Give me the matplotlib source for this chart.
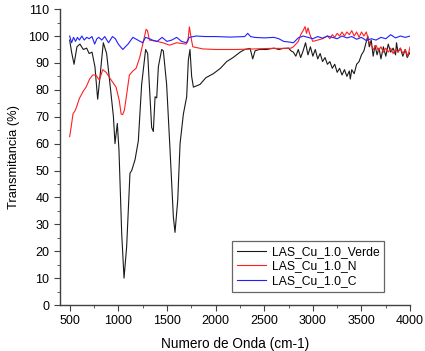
import numpy as np
import matplotlib.pyplot as plt

plt.rcParams['font.family'] = ['Liberation Sans', 'DejaVu Sans']

# LAS_Cu_1.0_Verde
verde_x = [500, 520, 545, 575, 606, 640, 675, 700, 730, 760, 788, 812, 846, 880, 915, 950, 966,
           990, 1007, 1035, 1059, 1086, 1120, 1138, 1172, 1206, 1240, 1281, 1302, 1319, 1343, 1360,
           1378, 1395, 1412, 1446, 1463, 1497, 1532, 1566, 1583, 1611, 1635, 1669, 1703, 1720, 1737,
           1754, 1772, 1840, 1900, 1977, 2050, 2114, 2180, 2252, 2300, 2355, 2382, 2406, 2450, 2526,
           2600, 2650, 2697, 2750, 2775,
           2800, 2825, 2850, 2875, 2900, 2925, 2950, 2975, 3000, 3025, 3050, 3075, 3100, 3125, 3150,
           3175, 3200, 3225, 3250, 3275, 3300, 3325, 3350, 3375, 3385, 3400, 3425, 3450, 3475, 3500,
           3525, 3550, 3565, 3580, 3600, 3620, 3640, 3660, 3680, 3700, 3725, 3750, 3775, 3800, 3825,
           3850, 3860, 3875, 3900, 3925, 3950, 3970, 4000]
verde_y = [98.5, 94, 89.5, 96, 97, 95, 95.5, 93.5, 94, 88.6, 76.5, 85, 97.5, 93.5, 82, 70, 60,
           67.5, 57.6, 26.6, 10, 21.7, 49, 50, 54, 61, 82, 95, 93.5, 82, 66, 64.5,
           77.4, 77, 88.6, 95, 94.5, 82, 57.6, 32.8, 27, 39, 60, 71, 77.4, 91, 95,
           85, 81, 82, 84.5, 86, 88, 90.5, 92, 94, 95, 95.4, 91.5, 94.5, 95, 95,
           95.5, 95, 95.4, 95.5, 94.5,
           94, 92.5, 95, 92, 94.5, 97.5, 93, 96, 92.5, 95, 91.5, 93.5, 90.5, 92, 89.5,
           90.5, 88, 89.5, 86.5, 88, 85.5, 87.5, 85, 87, 84, 87.5, 86, 89.5, 90.5, 93,
           94.5, 98, 100, 96, 98.5, 92.5, 96.5, 93, 95.5, 91.5, 96, 92.5, 97, 94, 95.5,
           93, 97.5, 94, 95.5, 92.5, 95, 92, 94]

# LAS_Cu_1.0_N
n_x = [500, 515, 534, 560, 600, 640, 669, 705, 737, 770, 806, 840, 875, 920, 977, 1010, 1029,
       1045, 1063, 1085, 1114, 1150, 1183, 1220, 1252, 1286, 1300, 1320, 1400, 1457, 1526, 1600,
       1697, 1715, 1731, 1750, 1766, 1869, 2000, 2212, 2400, 2555, 2726, 2775,
       2800, 2850, 2875, 2900, 2920, 2935, 2950, 2975, 3000, 3050, 3100, 3150, 3175, 3200, 3225,
       3250, 3275, 3300, 3325, 3350, 3375, 3400, 3425, 3450, 3475, 3500, 3525, 3550, 3575, 3600,
       3625, 3650, 3675, 3700, 3725, 3750, 3775, 3800, 3825, 3850, 3875, 3900, 3925, 3950, 3975,
       4000]
n_y = [62.6, 66, 71, 72.5, 76.8, 79.5, 81, 84, 85.5, 85.5, 83.6, 87.5, 86.5, 84, 81, 76, 71,
       70.8, 72.5, 78, 85.5, 87, 88, 92, 97, 102.5, 102, 98.5, 98, 97.5, 96.6, 97.5,
       97, 98, 103.4, 99, 96, 95.2, 95, 95, 95.2, 95.4, 95.4, 95.5,
       96, 98, 100.5, 102, 103.5, 101, 103, 100, 98, 98.5, 99, 100, 99, 100.5, 99.5,
       101, 100, 101.5, 100, 101.5, 100.5, 102, 100, 101.5, 99.5, 101.5, 100, 101.5, 98, 96.5,
       95, 96.5, 94.5, 96, 94, 95.5, 94, 95.5, 93.5, 95, 94, 95.5, 93.5, 95, 92.5,
       96]

# LAS_Cu_1.0_C
c_x = [500, 520, 540, 560, 580, 600, 625, 650, 675, 700, 730, 757, 780, 800, 830, 860, 900, 940,
       970, 1000, 1046, 1100, 1150, 1200, 1250, 1280, 1320, 1350, 1400, 1450, 1500, 1550, 1600,
       1650, 1700, 1730, 1800, 1900, 2000, 2150, 2300, 2330, 2360, 2400, 2500, 2600, 2650, 2700,
       2750, 2800, 2850, 2900, 2950, 3000, 3050, 3100, 3150, 3200, 3250, 3300, 3350, 3400, 3450,
       3500, 3550, 3600, 3650, 3700, 3750, 3800, 3850, 3900, 3950, 4000]
c_y = [100, 97.5, 99.5, 98, 99.5, 98.5, 100, 98.5, 99.5, 99, 99.8, 97, 99, 99.5, 98.5, 99.8, 97.5,
       99.8, 99, 97, 95, 97, 99.5, 98.5, 97.5, 99.5, 99, 98.5, 98, 99.5, 98, 98.5, 99.5,
       98, 97.5, 99.5, 100, 99.8, 99.8, 99.6, 99.8, 101, 99.8, 99.5, 99.3, 99.5, 99, 98,
       97.8, 97.5, 99.3, 100, 99.5, 99, 99.8, 99.2, 100, 99.5, 99, 100, 99.3, 99.8, 98.8,
       99.5, 98.3, 99, 98.5, 99.5, 99, 100.5, 99.3, 100, 99.5, 100]

fig = plt.figure(figsize=(4.25, 3.51), dpi=100)
ax = fig.add_axes([0.141, 0.131, 0.824, 0.843])

ax.plot(verde_x, verde_y, color='#1a1a1a', lw=0.8, label='LAS_Cu_1.0_Verde')
ax.plot(n_x, n_y, color='#ff2020', lw=0.8, label='LAS_Cu_1.0_N')
ax.plot(c_x, c_y, color='#2020ff', lw=0.8, label='LAS_Cu_1.0_C')

ax.set_xlim(400, 4000)
ax.set_ylim(0, 110)
ax.set_xticks(np.arange(500, 4001, 500))
ax.set_xticks(np.arange(750, 4000, 500), minor=True)
ax.set_yticks(np.arange(0, 111, 10))
ax.set_yticks(np.arange(5, 110, 10), minor=True)
for s in ['top', 'right']:
    ax.spines[s].set_visible(False)
for s in ['left', 'bottom']:
    ax.spines[s].set_color('#404040')
    ax.spines[s].set_linewidth(1.0)
ax.tick_params(which='both', direction='out', colors='#404040', labelcolor='black', labelsize=9)
ax.tick_params(which='major', length=4)
ax.tick_params(which='minor', length=2.5)

ax.set_xlabel('Numero de Onda (cm-1)', fontsize=9.8, labelpad=7)
ax.set_ylabel('Transmitancia (%)', fontsize=9.3, labelpad=6)

leg = ax.legend(loc='lower left', bbox_to_anchor=(0.491, 0.044), borderaxespad=0,
                fontsize=8.7, fancybox=False, frameon=True, handlelength=2.4,
                labelspacing=0.22, borderpad=0.4, handletextpad=0.5)
leg.get_frame().set_edgecolor('#404040')
leg.get_frame().set_linewidth(0.9)

fig.savefig('out.png', dpi=100)
